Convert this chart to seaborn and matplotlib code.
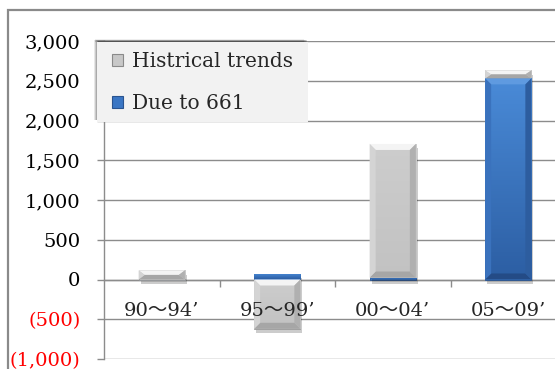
import numpy as np
import pandas as pd
import matplotlib
matplotlib.use("Agg")
import matplotlib.pyplot as plt
import seaborn as sns
from matplotlib.patches import Polygon, Rectangle, Patch
from matplotlib import patheffects as pe
from matplotlib.colors import LinearSegmentedColormap

# ---- data -------------------------------------------------------------
periods = ["90～94’", "95～99’", "00～04’", "05～09’"]
due_to_661 = [0, 65, 25, 2530]
historical = [115, -620, 1680, 100]
series_labels = ["Histrical trends", "Due to 661"]
y_ticks = [-1000, -500, 0, 500, 1000, 1500, 2000, 2500, 3000]

GRAY = "#c8c8c8"
BLUE = "#3a76c4"
GRID = "#8c8c8c"

sns.set_theme(style="white")
plt.rcParams["font.family"] = ["DejaVu Serif", "Noto Sans CJK JP"]

W, H = 555, 369
fig = plt.figure(figsize=(W / 100, H / 100), dpi=100)
ax = fig.add_axes([104 / W, 1 - 359 / H, 462 / W, 318 / H])

df = pd.DataFrame({"period": periods, "due": due_to_661, "hist": historical})
# positive historical values stack on the blue series; negative ones hang from zero
df["hist_base"] = np.where((df["hist"] >= 0) & (df["due"] >= 0), df["due"], 0)

n0 = len(ax.patches)
sns.barplot(data=df, x="period", y="due", color=BLUE, saturation=1, width=0.4,
            errorbar=None, ax=ax, edgecolor="#2a5490", linewidth=0.6, zorder=3)
blue_bars = list(ax.patches[n0:])
n1 = len(ax.patches)
sns.barplot(data=df, x="period", y="hist", color=GRAY, saturation=1, width=0.4,
            errorbar=None, ax=ax, edgecolor="#9a9a9a", linewidth=0.6, zorder=3)
gray_bars = list(ax.patches[n1:])
for p, base in zip(gray_bars, df["hist_base"]):
    p.set_y(p.get_y() + base)

ax.set_xlim(-0.5, 3.5)
ax.set_ylim(-1000, 3000)
ax.set_xlabel("")
ax.set_ylabel("")


def px_to_data(px):
    inv = ax.transData.inverted()
    (a0, b0), (a1, b1) = inv.transform([(0, 0), (px, px)])
    return abs(a1 - a0), abs(b1 - b0)


def bevel(patch, top, left, right, bottom, px=6, min_px=7):
    x0, w = patch.get_x(), patch.get_width()
    y0, h = patch.get_y(), patch.get_height()
    ya, yb = sorted([y0, y0 + h])
    xa, xb = x0, x0 + w
    if yb - ya <= 0:
        return
    _, one_y = px_to_data(1)
    if (yb - ya) / one_y < min_px:
        return
    dx, dy = px_to_data(px)
    dy = min(dy, (yb - ya) / 2)
    dx = min(dx, w / 2)
    kw = dict(zorder=4, lw=0)
    ax.add_patch(Polygon([(xa, yb), (xb, yb), (xb - dx, yb - dy), (xa + dx, yb - dy)], fc=top, **kw))
    ax.add_patch(Polygon([(xa, ya), (xb, ya), (xb - dx, ya + dy), (xa + dx, ya + dy)], fc=bottom, **kw))
    ax.add_patch(Polygon([(xa, ya), (xa, yb), (xa + dx, yb - dy), (xa + dx, ya + dy)], fc=left, **kw))
    ax.add_patch(Polygon([(xb, ya), (xb, yb), (xb - dx, yb - dy), (xb - dx, ya + dy)], fc=right, **kw))


def gradient(patch, c_top, c_bottom):
    x0, w = patch.get_x(), patch.get_width()
    y0, h = patch.get_y(), patch.get_height()
    ya, yb = sorted([y0, y0 + h])
    if yb - ya <= 0:
        return
    cmap = LinearSegmentedColormap.from_list("g", [c_bottom, c_top])
    grad = np.linspace(1, 0, 256).reshape(-1, 1)
    im = ax.imshow(grad, cmap=cmap, vmin=0, vmax=1, extent=[x0, x0 + w, ya, yb],
                   aspect="auto", zorder=3.5, interpolation="bilinear")
    im.set_clip_path(patch)


shadow = [pe.SimplePatchShadow(offset=(1.5, -3), shadow_rgbFace="k", alpha=0.22), pe.Normal()]
for p in blue_bars + gray_bars:
    if p.get_height() != 0:
        p.set_path_effects(shadow)

for p in blue_bars:
    gradient(p, "#4a8bd8", "#2c5ea3")
    bevel(p, top="#5f9ae0", left="#3a72bd", right="#2d5d9f", bottom="#244b86")
for p in gray_bars:
    gradient(p, "#cdcdcd", "#c2c2c2")
    bevel(p, top="#f4f4f4", left="#d4d4d4", right="#b0b0b0", bottom="#a6a6a6")

ax.set_xlim(-0.5, 3.5)
ax.set_ylim(-1000, 3000)

# ---- axes styling -----------------------------------------------------
ax.set_axisbelow(True)
ax.xaxis.set_zorder(6)          # category labels sit on top of the bars
ax.yaxis.grid(True, color=GRID, lw=1)
ax.xaxis.grid(False)
for s in ["top", "right"]:
    ax.spines[s].set_visible(False)
ax.spines["left"].set_color(GRID)
ax.spines["left"].set_linewidth(1)
ax.spines["bottom"].set_position(("data", 0))
ax.spines["bottom"].set_color(GRID)
ax.spines["bottom"].set_linewidth(1)
ax.spines["bottom"].set_zorder(2)

ax.set_yticks(y_ticks)
ax.set_yticklabels([f"{v:,.0f}" if v >= 0 else f"({-v:,.0f})" for v in y_ticks])
for lbl, v in zip(ax.get_yticklabels(), y_ticks):
    lbl.set_color("#ff0000" if v < 0 else "black")
ax.tick_params(axis="y", left=True, length=5, width=1, color=GRID, pad=12, labelsize=14)

ax.set_xticks(range(len(periods)))
ax.set_xticklabels(periods)
ax.set_xticks([0.5, 1.5, 2.5, 3.5], minor=True)
ax.tick_params(axis="x", which="major", bottom=True, length=0, pad=16, labelsize=14)
ax.tick_params(axis="x", which="minor", bottom=True, length=5, width=1, color=GRID)

# ---- legend -----------------------------------------------------------
lx0, ly0, lx1, ly1 = 97, 42, 308, 122      # legend box, pixels from top-left
for k, a in [(3, 0.10), (2, 0.14), (1, 0.18)]:
    fig.add_artist(Rectangle(((lx0 - k) / W, 1 - (ly1 - 2) / H), (lx1 - lx0) / W, (ly1 - ly0) / H,
                             transform=fig.transFigure, facecolor="k", alpha=a,
                             edgecolor="none", zorder=4))
fig.add_artist(Rectangle((lx0 / W, 1 - ly1 / H), (lx1 - lx0) / W, (ly1 - ly0) / H,
                         transform=fig.transFigure, facecolor="#f2f2f2",
                         edgecolor="none", zorder=5))
# shadow along the top edge
for k, a in [(1, 0.18), (2, 0.12), (3, 0.07)]:
    fig.add_artist(Rectangle(((lx0 - 2) / W, 1 - (ly0 - k + 1) / H), (lx1 - lx0 - 2) / W, 1 / H,
                             transform=fig.transFigure, facecolor="k", alpha=a,
                             edgecolor="none", zorder=4))

handles = [Patch(facecolor=GRAY, edgecolor="#8a8a8a", lw=0.8),
           Patch(facecolor=BLUE, edgecolor="#2a5490", lw=0.8)]
leg = fig.legend(handles, series_labels, loc="upper left",
                 bbox_to_anchor=(112 / W, 1 - 52 / H), bbox_transform=fig.transFigure,
                 borderaxespad=0, borderpad=0, frameon=False,
                 fontsize=14.5, handlelength=0.55, handleheight=0.55, handletextpad=0.45,
                 labelspacing=1.15)
leg.set_zorder(6)

# chart frame
fig.add_artist(Rectangle((8 / W, -0.1), 1.2, (1 - 10 / H) + 0.1, transform=fig.transFigure,
                         fill=False, edgecolor="#8a8a8a", lw=1.6))

fig.savefig("out.png", dpi=100)
